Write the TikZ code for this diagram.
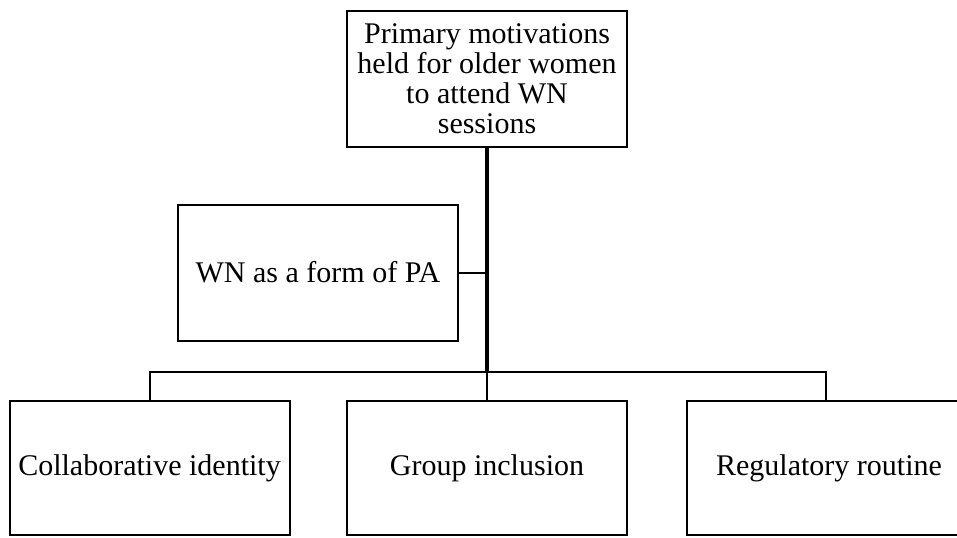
\documentclass[tikz,border=0pt]{standalone}
\usepackage{fontspec}
\setmainfont{Liberation Serif}

\begin{document}
\begin{tikzpicture}[x=0.5pt,y=-0.5pt,line width=1pt,
    every node/.style = {draw, align=center, inner sep=0pt,
        minimum width=140pt, minimum height=68pt,
        font=\fontsize{15}{15}\selectfont}]
    \useasboundingbox (0,0) rectangle (957,537);

    \node (motiv)   at (487, 78.5)  {Primary motivations\\held for older women\\to attend WN\\sessions};
    \node (pa)      at (318, 272.5) {WN as a form of PA};
    \node (collab)  at (149.5, 468) [minimum height=67pt] {Collaborative identity};
    \node (group)   at (487, 468)   [minimum height=67pt] {Group inclusion};
    \node (routine) at (829, 468)   [minimum height=67pt, minimum width=142pt] {Regulatory routine};

    \coordinate (hub)   at (487, 372);
    \coordinate (pajn)  at (487, 272.5);
    \coordinate (left)  at (149.5, 372);
    \coordinate (right) at (826, 372);

    \draw[line width=1.6pt] (motiv.south) -- (hub);
    \draw (pa.east) -- (pajn);
    \draw (collab.north) -- (left) -- (right) -- (right |- routine.north);
    \draw (hub) -- (group.north);
\end{tikzpicture}
\end{document}
